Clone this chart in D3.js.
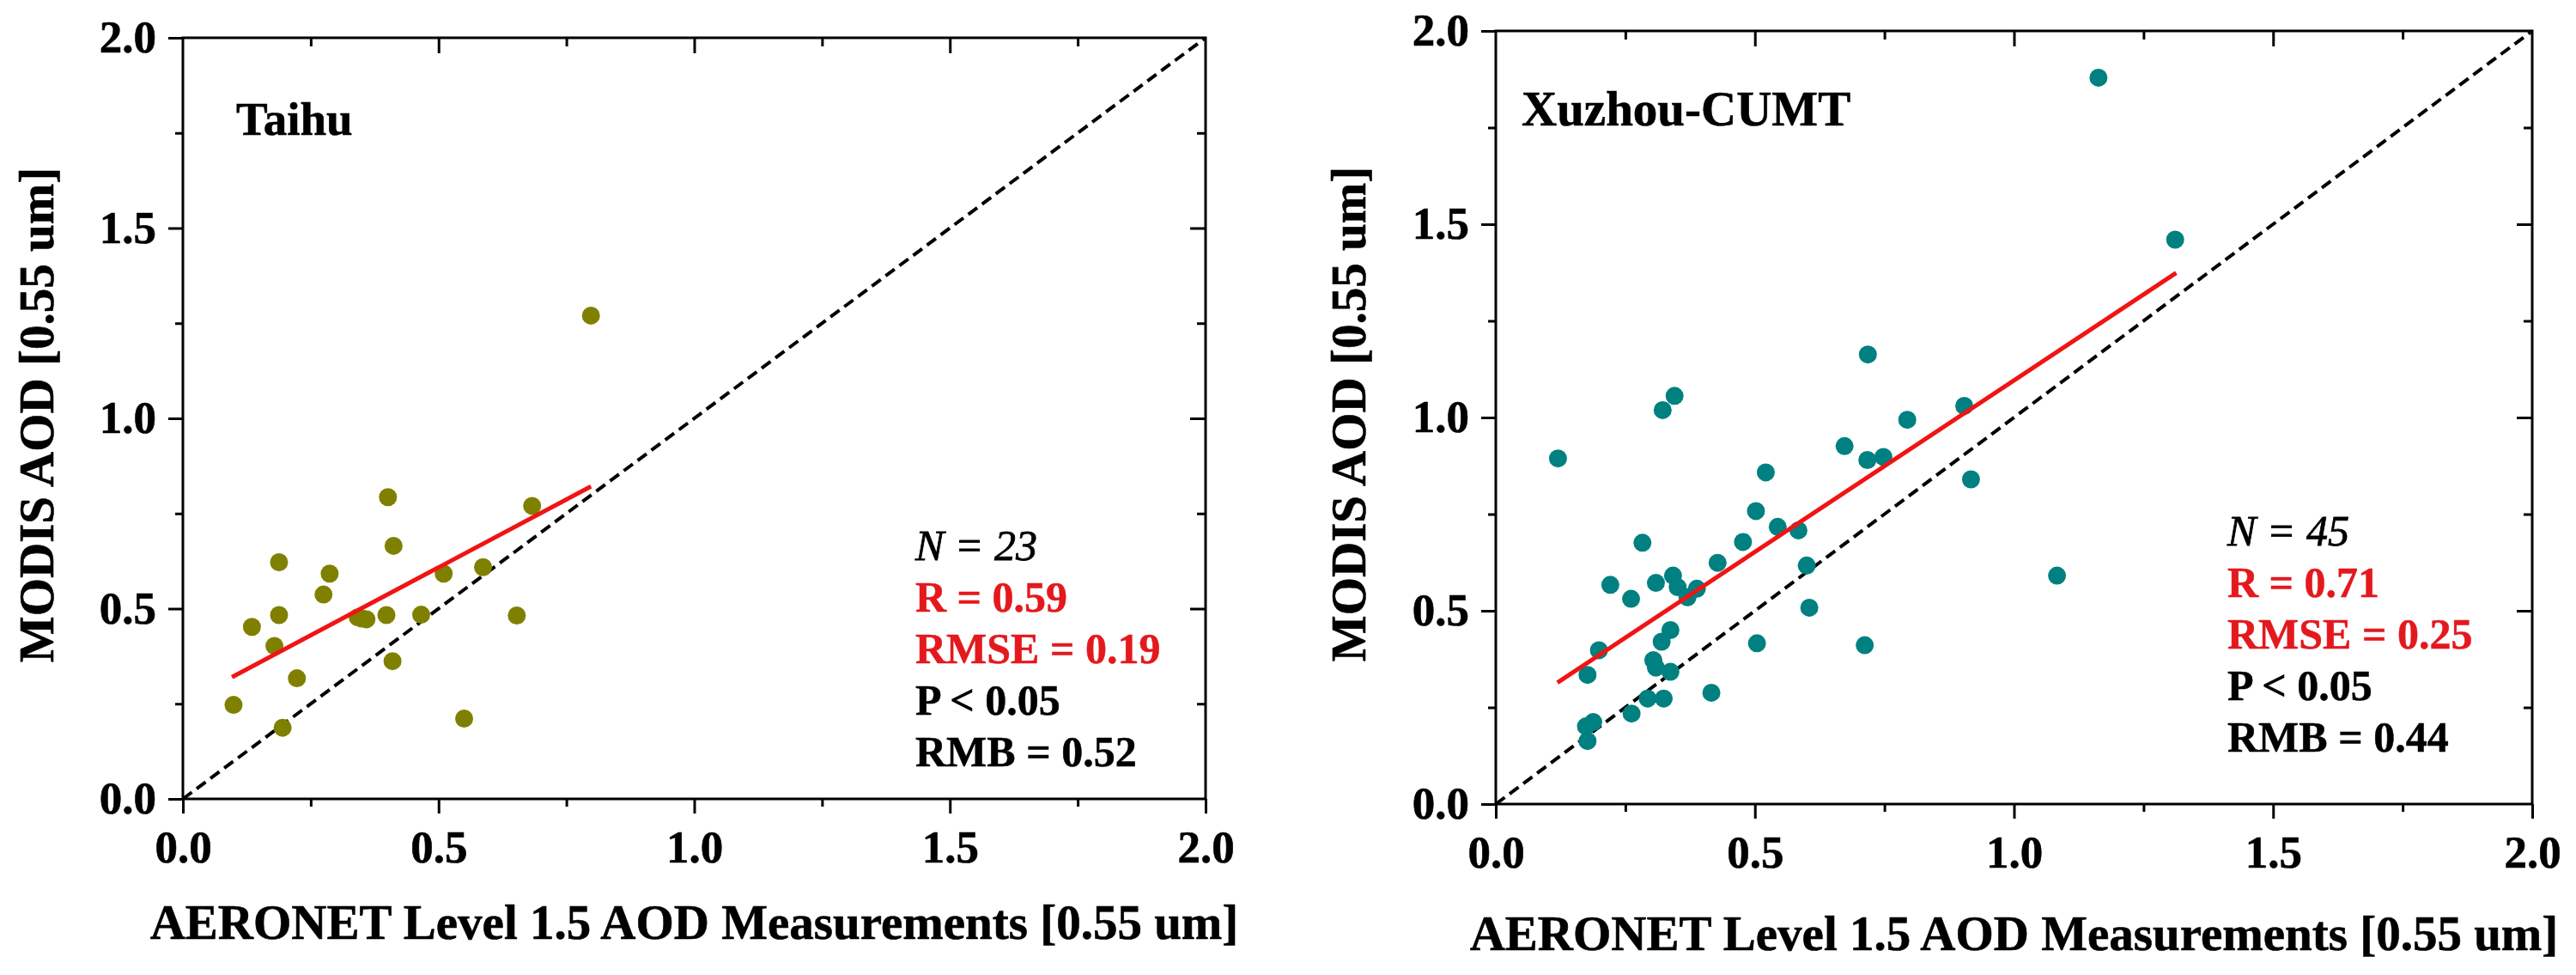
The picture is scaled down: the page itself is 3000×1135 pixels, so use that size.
<!DOCTYPE html>
<html><head><meta charset="utf-8">
<script src="https://cdn.jsdelivr.net/npm/d3@7"></script>
<style>
body{margin:0;background:#fff}
svg{display:block}
text{font-family:"Liberation Serif","Times New Roman",serif}
</style>
</head><body>
<svg id="chart" width="3000" height="1135"></svg>
<script>
// ---------- data ----------
const majorTicks = [0, 0.5, 1.0, 1.5, 2.0];
const minorTicks = [0.25, 0.75, 1.25, 1.75];
const tickLabels = ["0.0", "0.5", "1.0", "1.5", "2.0"];
const xTitle = "AERONET Level 1.5 AOD Measurements [0.55 um]";
const yTitle = "MODIS AOD [0.55 um]";
const stationNames = ["Taihu", "Xuzhou-CUMT"];

const taihuX = [0.401, 0.683, 0.412, 0.188, 0.287, 0.510, 0.587, 0.275, 0.188, 0.342, 0.359, 0.350,
                0.398, 0.466, 0.653, 0.135, 0.179, 0.410, 0.223, 0.099, 0.195, 0.550, 0.798];
const taihuY = [0.793, 0.770, 0.665, 0.622, 0.592, 0.592, 0.609, 0.537, 0.483, 0.477, 0.472, 0.474,
                0.483, 0.484, 0.482, 0.452, 0.402, 0.362, 0.317, 0.247, 0.187, 0.211, 1.270];

const xuzhouX = [0.502, 0.544, 0.584, 0.283, 0.477, 0.428, 0.600, 0.221, 0.309, 0.342, 0.351, 0.388,
                 0.370, 0.261, 0.605, 0.337, 0.320, 0.199, 0.504, 0.712, 0.304, 0.309, 0.337, 0.177,
                 0.416, 0.293, 0.324, 0.262, 0.188, 0.174, 0.177, 0.718, 0.345, 0.322, 0.794, 0.120,
                 0.673, 0.717, 0.748, 0.521, 1.163, 1.311, 0.904, 0.917, 1.083];
const xuzhouY = [0.758, 0.717, 0.708, 0.676, 0.678, 0.624, 0.617, 0.567, 0.572, 0.591, 0.561, 0.557,
                 0.535, 0.531, 0.508, 0.450, 0.420, 0.398, 0.416, 0.411, 0.372, 0.353, 0.342, 0.334,
                 0.288, 0.273, 0.273, 0.234, 0.212, 0.201, 0.163, 1.163, 1.056, 1.019, 0.994, 0.894,
                 0.926, 0.890, 0.898, 0.858, 1.879, 1.460, 1.030, 0.840, 0.591];

const taihuFitX = [0.096, 0.798];
const taihuFitY = [0.320, 0.821];
const xuzhouFitX = [0.119, 1.313];
const xuzhouFitY = [0.314, 1.374];
const oneToOne = [0, 2];

const taihuStats = ["N = 23", "R = 0.59", "RMSE = 0.19", "P < 0.05", "RMB = 0.52"];
const xuzhouStats = ["N = 45", "R = 0.71", "RMSE = 0.25", "P < 0.05", "RMB = 0.44"];
const statColors = ["#000", "#e3191e", "#e3191e", "#000", "#000"];

// ---------- layout ----------
const panels = [
  {name: stationNames[0], xs: taihuX, ys: taihuY, fx: taihuFitX, fy: taihuFitY, stats: taihuStats,
   color: "#808000", left: 213, right: 1404, top: 44, bottom: 930,
   nameX: 275, nameY: 157, nameSize: 55, statX: 1066, statY: 652,
   yTitleX: 62, xTitleY: 1093},
  {name: stationNames[1], xs: xuzhouX, ys: xuzhouY, fx: xuzhouFitX, fy: xuzhouFitY, stats: xuzhouStats,
   color: "#008080", left: 1742, right: 2949, top: 36, bottom: 936,
   nameX: 1772, nameY: 146, nameSize: 57, statX: 2594, statY: 635,
   yTitleX: 1590, xTitleY: 1106}
];

const svg = d3.select("#chart");

function styleAxis(g) {
  g.select(".domain").remove();
  g.selectAll(".tick line").attr("stroke", "#000").attr("stroke-width", 3);
  g.selectAll(".tick text").attr("font-size", 53).attr("font-weight", "bold")
    .attr("font-family", "'Liberation Serif','Times New Roman',serif").attr("fill", "#000")
    .attr("stroke", "#000").attr("stroke-width", 0.6);
}

panels.forEach(p => {
  const x = d3.scaleLinear().domain([0, 2]).range([p.left, p.right]);
  const y = d3.scaleLinear().domain([0, 2]).range([p.bottom, p.top]);
  const g = svg.append("g");
  const fmt = (d) => tickLabels[majorTicks.indexOf(d)];

  // bottom axis (outward)
  g.append("g").attr("transform", `translate(0,${p.bottom})`)
    .call(d3.axisBottom(x).tickValues(majorTicks).tickFormat(fmt).tickSize(17).tickPadding(19))
    .call(styleAxis);
  g.append("g").attr("transform", `translate(0,${p.bottom})`)
    .call(d3.axisBottom(x).tickValues(minorTicks).tickFormat("").tickSize(9))
    .call(styleAxis);
  // left axis (outward)
  g.append("g").attr("transform", `translate(${p.left},0)`)
    .call(d3.axisLeft(y).tickValues(majorTicks).tickFormat(fmt).tickSize(17).tickPadding(14))
    .call(styleAxis);
  g.append("g").attr("transform", `translate(${p.left},0)`)
    .call(d3.axisLeft(y).tickValues(minorTicks).tickFormat("").tickSize(9))
    .call(styleAxis);
  // top axis (inward)
  g.append("g").attr("transform", `translate(0,${p.top})`)
    .call(d3.axisTop(x).tickValues(majorTicks.slice(1, 4)).tickFormat("").tickSize(-18))
    .call(styleAxis);
  g.append("g").attr("transform", `translate(0,${p.top})`)
    .call(d3.axisTop(x).tickValues(minorTicks).tickFormat("").tickSize(-10))
    .call(styleAxis);
  // right axis (inward)
  g.append("g").attr("transform", `translate(${p.right},0)`)
    .call(d3.axisRight(y).tickValues(majorTicks.slice(1, 4)).tickFormat("").tickSize(-18))
    .call(styleAxis);
  g.append("g").attr("transform", `translate(${p.right},0)`)
    .call(d3.axisRight(y).tickValues(minorTicks).tickFormat("").tickSize(-10))
    .call(styleAxis);

  // frame
  g.append("rect").attr("x", x(0)).attr("y", y(2))
    .attr("width", x(2) - x(0)).attr("height", y(0) - y(2))
    .attr("fill", "none").attr("stroke", "#000").attr("stroke-width", 3);

  // 1:1 line
  g.append("line").attr("x1", x(oneToOne[0])).attr("y1", y(oneToOne[0]))
    .attr("x2", x(oneToOne[1])).attr("y2", y(oneToOne[1]))
    .attr("stroke", "#000").attr("stroke-width", 4).attr("stroke-dasharray", "13,7");

  // points
  const pts = p.xs.map((v, i) => [v, p.ys[i]]);
  g.selectAll("circle.pt").data(pts).join("circle").attr("class", "pt")
    .attr("cx", d => x(d[0])).attr("cy", d => y(d[1])).attr("r", 10.5)
    .attr("fill", p.color);

  // fit line
  g.append("line").attr("x1", x(p.fx[0])).attr("y1", y(p.fy[0]))
    .attr("x2", x(p.fx[1])).attr("y2", y(p.fy[1]))
    .attr("stroke", "#f01414").attr("stroke-width", 5);

  // station name
  g.append("text").attr("x", p.nameX).attr("y", p.nameY)
    .attr("font-size", p.nameSize).attr("font-weight", "bold")
    .attr("stroke", "#000").attr("stroke-width", 0.6).text(p.name);

  // stats
  p.stats.forEach((s, i) => {
    g.append("text").attr("x", p.statX).attr("y", p.statY + i * 60)
      .attr("font-size", 50)
      .attr("font-weight", i === 0 ? "normal" : "bold")
      .attr("font-style", i === 0 ? "italic" : "normal")
      .attr("fill", statColors[i])
      .attr("stroke", statColors[i]).attr("stroke-width", i === 0 ? 0.8 : 0.5)
      .text(s);
  });

  // axis titles
  g.append("text").attr("x", (p.left + p.right) / 2).attr("y", p.xTitleY)
    .attr("text-anchor", "middle").attr("font-size", 57).attr("font-weight", "bold")
    .attr("stroke", "#000").attr("stroke-width", 0.6).text(xTitle);
  g.append("text").attr("transform", `translate(${p.yTitleX},${(p.top + p.bottom) / 2 - 4}) rotate(-90)`)
    .attr("text-anchor", "middle").attr("font-size", 57).attr("font-weight", "bold")
    .attr("stroke", "#000").attr("stroke-width", 0.6).text(yTitle);
});
</script>
</body></html>
